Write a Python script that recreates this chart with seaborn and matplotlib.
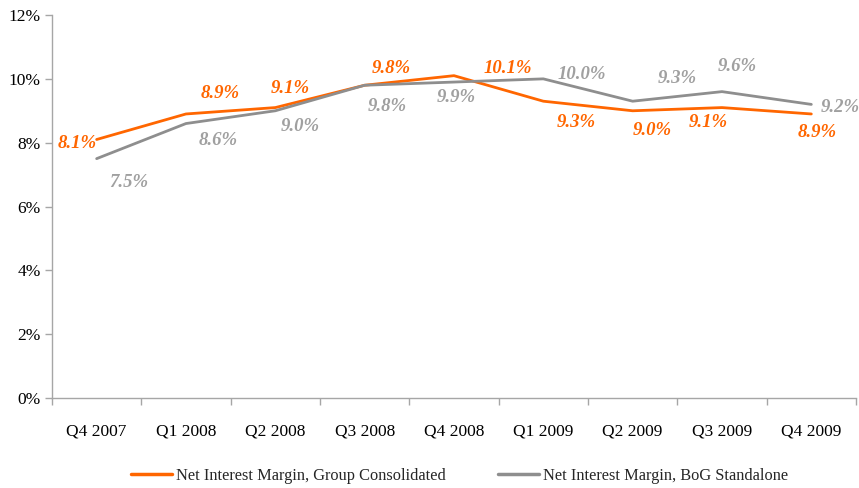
import matplotlib
matplotlib.use("Agg")
import matplotlib.pyplot as plt
from matplotlib.ticker import FuncFormatter, FixedLocator
import numpy as np
import pandas as pd
import seaborn as sns

# Quarterly net interest margin (%)
quarters = ["Q4 2007", "Q1 2008", "Q2 2008", "Q3 2008", "Q4 2008",
            "Q1 2009", "Q2 2009", "Q3 2009", "Q4 2009"]
group_consolidated = [8.1, 8.9, 9.1, 9.8, 10.1, 9.3, 9.0, 9.1, 8.9]
bog_standalone = [7.5, 8.6, 9.0, 9.8, 9.9, 10.0, 9.3, 9.6, 9.2]
series_names = ["Net Interest Margin, Group Consolidated",
                "Net Interest Margin, BoG Standalone"]

# label offsets (points) for each value annotation
group_offsets = [(-14, -3), (25, 15), (11, 14), (19, 12), (39, 5),
                 (24, -15), (14, -14), (-10, -11), (4, -13)]
bog_offsets = [(23, -17), (23, -12), (18, -11), (16, -15), (2, -11),
               (28, 3), (32, 16), (11, 18), (21, -2)]

ORANGE = "#FF6600"
GREY_LINE = "#8E8E8E"
GREY_TEXT = "#A0A0A0"

df = pd.DataFrame({
    "quarter": quarters * 2,
    "nim": group_consolidated + bog_standalone,
    "series": [series_names[0]] * len(quarters) + [series_names[1]] * len(quarters),
})

sns.set_theme(style="white")
plt.rcParams["font.family"] = ["Liberation Serif", "DejaVu Serif"]

fig = plt.figure(figsize=(8.59, 4.88), dpi=100)
ax = fig.add_axes([0.0605, 0.1844, 0.936, 0.7848])

sns.lineplot(data=df, x="quarter", y="nim", hue="series", sort=False,
             palette={series_names[0]: ORANGE, series_names[1]: GREY_LINE},
             linewidth=2.0, ax=ax, legend=True)

# value labels
for i, (v, off) in enumerate(zip(group_consolidated, group_offsets)):
    ax.annotate(f"{v:.1f}%", xy=(i, v), xytext=off, textcoords="offset points",
                ha="center", va="center", color=ORANGE, fontsize=13.5,
                fontweight="bold", fontstyle="italic")
for i, (v, off) in enumerate(zip(bog_standalone, bog_offsets)):
    ax.annotate(f"{v:.1f}%", xy=(i, v), xytext=off, textcoords="offset points",
                ha="center", va="center", color=GREY_TEXT, fontsize=13.5,
                fontweight="bold", fontstyle="italic")

ax.set_xlim(-0.5, len(quarters) - 0.5)
ax.set_ylim(0, 12)
ax.set_yticks(np.arange(0, 12.1, 2))
ax.yaxis.set_major_formatter(FuncFormatter(lambda y, _: f"{y:.0f}%"))
ax.set_xlabel("")
ax.set_ylabel("")

for side in ("top", "right"):
    ax.spines[side].set_visible(False)
for side in ("left", "bottom"):
    ax.spines[side].set_color("#A6A6A6")
    ax.spines[side].set_linewidth(1.0)

# category separators as minor ticks on the x axis
ax.xaxis.set_minor_locator(FixedLocator(np.arange(-0.5, len(quarters), 1.0)))
ax.tick_params(axis="x", which="major", length=0, pad=18, labelsize=12.5,
               colors="black")
ax.tick_params(axis="x", which="minor", length=5, width=1.0, color="#A6A6A6",
               direction="out", bottom=True)
ax.tick_params(axis="y", which="major", length=5, width=1.0, color="#A6A6A6",
               direction="out", left=True, pad=3, labelsize=12.5, labelcolor="black")

leg = ax.legend(loc="center", bbox_to_anchor=(0.535, 0.0246),
                bbox_transform=fig.transFigure, ncol=2, frameon=False,
                fontsize=11.8, handlelength=2.5, handletextpad=0.25,
                columnspacing=3.2)
for line in leg.get_lines():
    line.set_linewidth(2.5)

fig.savefig("out.png", dpi=100)
